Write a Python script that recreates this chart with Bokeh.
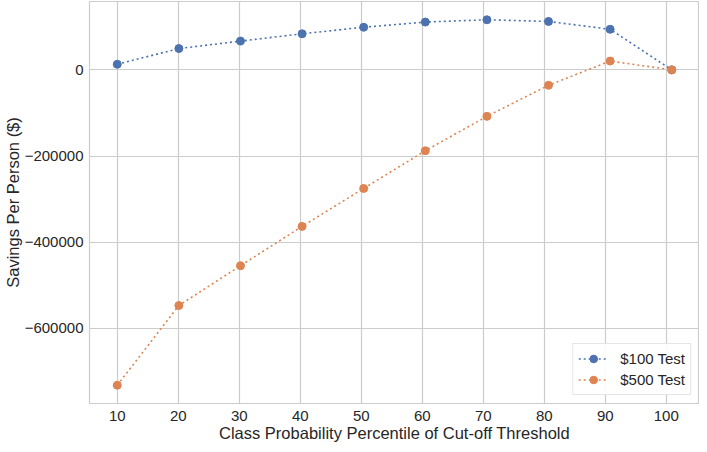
from bokeh.plotting import figure
from bokeh.models import Range1d, FixedTicker, Legend, LegendItem
from bokeh.embed import file_html
from bokeh.resources import INLINE

# Data
thresholds = [10.0, 20.1, 30.2, 40.3, 50.4, 60.5, 70.6, 80.7, 90.8, 100.9]
savings_100 = [13000, 49500, 66800, 83700, 99000, 111000, 116300, 112400, 94200, 0]
savings_500 = [-732000, -547000, -454600, -363300, -275200, -187700, -107900, -35800, 20500, 0]
x_ticks = [10, 20, 30, 40, 50, 60, 70, 80, 90, 100]
y_ticks = [-600000, -400000, -200000, 0]
series_names = ["$100 Test", "$500 Test"]
colors = ["#4c72b0", "#dd8452"]

FONT = "Liberation Sans"
GRID = "#cccccc"

p = figure(width=699, height=444, output_backend="svg", toolbar_location=None,
           x_range=Range1d(5.45, 105.45), y_range=Range1d(-774400, 158700),
           min_border_left=0, min_border_right=0, min_border_top=1, min_border_bottom=0)

p.outline_line_color = GRID
p.outline_line_width = 1.2
p.background_fill_color = "white"
p.border_fill_color = "white"

for ax in (p.xaxis[0], p.yaxis[0]):
    ax.axis_line_color = None
    ax.major_tick_line_color = None
    ax.minor_tick_line_color = None
    ax.major_tick_out = 0
    ax.major_tick_in = 0
    ax.minor_tick_out = 0
    ax.minor_tick_in = 0
    ax.major_label_text_font = FONT
    ax.major_label_text_font_size = "15px"
    ax.major_label_text_color = "#262626"
    ax.axis_label_text_font = FONT
    ax.axis_label_text_font_size = "16.5px"
    ax.axis_label_text_font_style = "normal"
    ax.axis_label_text_color = "#262626"

p.xaxis[0].ticker = FixedTicker(ticks=x_ticks)
p.yaxis[0].ticker = FixedTicker(ticks=y_ticks)
p.yaxis[0].major_label_overrides = {t: (str(t).replace("-", "\u2212")) for t in y_ticks}
p.xaxis[0].major_label_standoff = 7
p.yaxis[0].major_label_standoff = 6
p.xaxis[0].axis_label = "Class Probability Percentile of Cut-off Threshold"
p.yaxis[0].axis_label = "Savings Per Person ($)"
p.xaxis[0].axis_label_standoff = 0
p.yaxis[0].axis_label_standoff = 0

p.xgrid.grid_line_color = GRID
p.ygrid.grid_line_color = GRID
p.xgrid.grid_line_width = 1.2
p.ygrid.grid_line_width = 1.2

items = []
for name, ys, c in zip(series_names, [savings_100, savings_500], colors):
    l = p.line(thresholds, ys, line_color=c, line_width=1.6, line_dash="2 3")
    s = p.scatter(thresholds, ys, size=8, fill_color=c, line_color=c)
    items.append(LegendItem(label=name, renderers=[l, s]))

legend = Legend(items=items, location="bottom_right",
                label_text_font=FONT, label_text_font_size="15px",
                label_text_color="#262626",
                border_line_color=GRID, border_line_width=1,
                background_fill_alpha=0.9,
                glyph_width=30, glyph_height=19, spacing=2,
                padding=5, margin=8, label_standoff=12)
p.add_layout(legend, "center")

open("out.html", "w").write(file_html(p, INLINE))
